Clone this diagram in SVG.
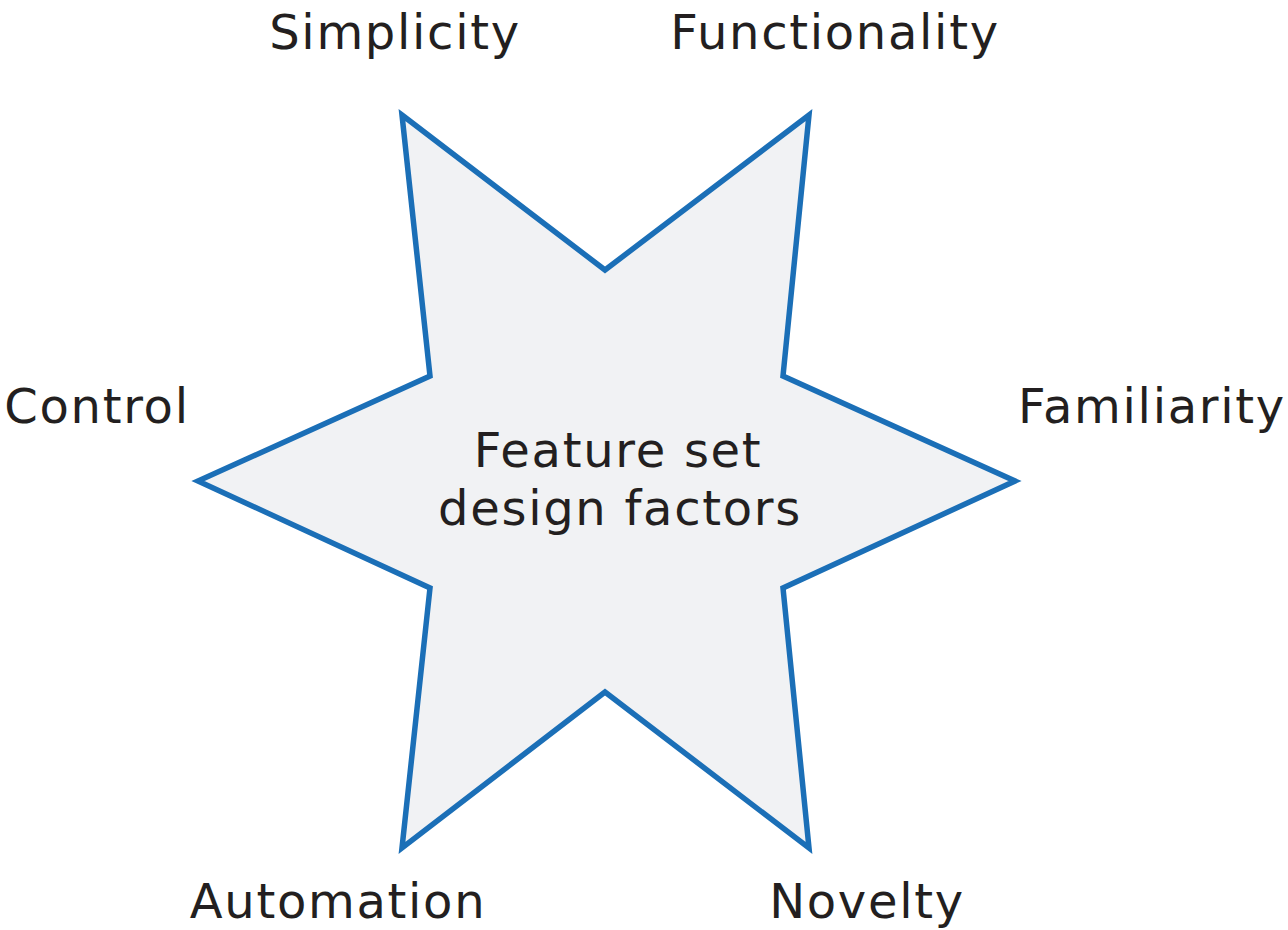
<svg xmlns="http://www.w3.org/2000/svg" width="1288" height="930" viewBox="0 0 1288 930">
<style>
.t{font-family:"DejaVu Sans",Verdana,sans-serif;font-size:48px;letter-spacing:1.7px;fill:#231f20;text-anchor:middle}
.star{fill:#f1f2f4;stroke:#1b6fb7;stroke-width:5.5;stroke-linejoin:miter}
</style>
<rect width="1288" height="930" fill="#ffffff"/>
<g id="star">
<polygon class="star" points="402,115 605,270 809,115 783,376 1015,481 783,588 809,848 605,692 402,848 430,588 198,481 430,376"/>
<text class="t" x="618" y="467">Feature set</text>
<text class="t" x="620" y="525">design factors</text>
</g>
<g id="connectors"></g>
<g id="simplicity"><text class="t" x="395" y="49">Simplicity</text></g>
<g id="functionality"><text class="t" x="835" y="49">Functionality</text></g>
<g id="control"><text class="t" x="97" y="423">Control</text></g>
<g id="familiarity"><text class="t" x="1152" y="423">Familiarity</text></g>
<g id="automation"><text class="t" x="338" y="918">Automation</text></g>
<g id="novelty"><text class="t" x="867" y="918">Novelty</text></g>
</svg>
